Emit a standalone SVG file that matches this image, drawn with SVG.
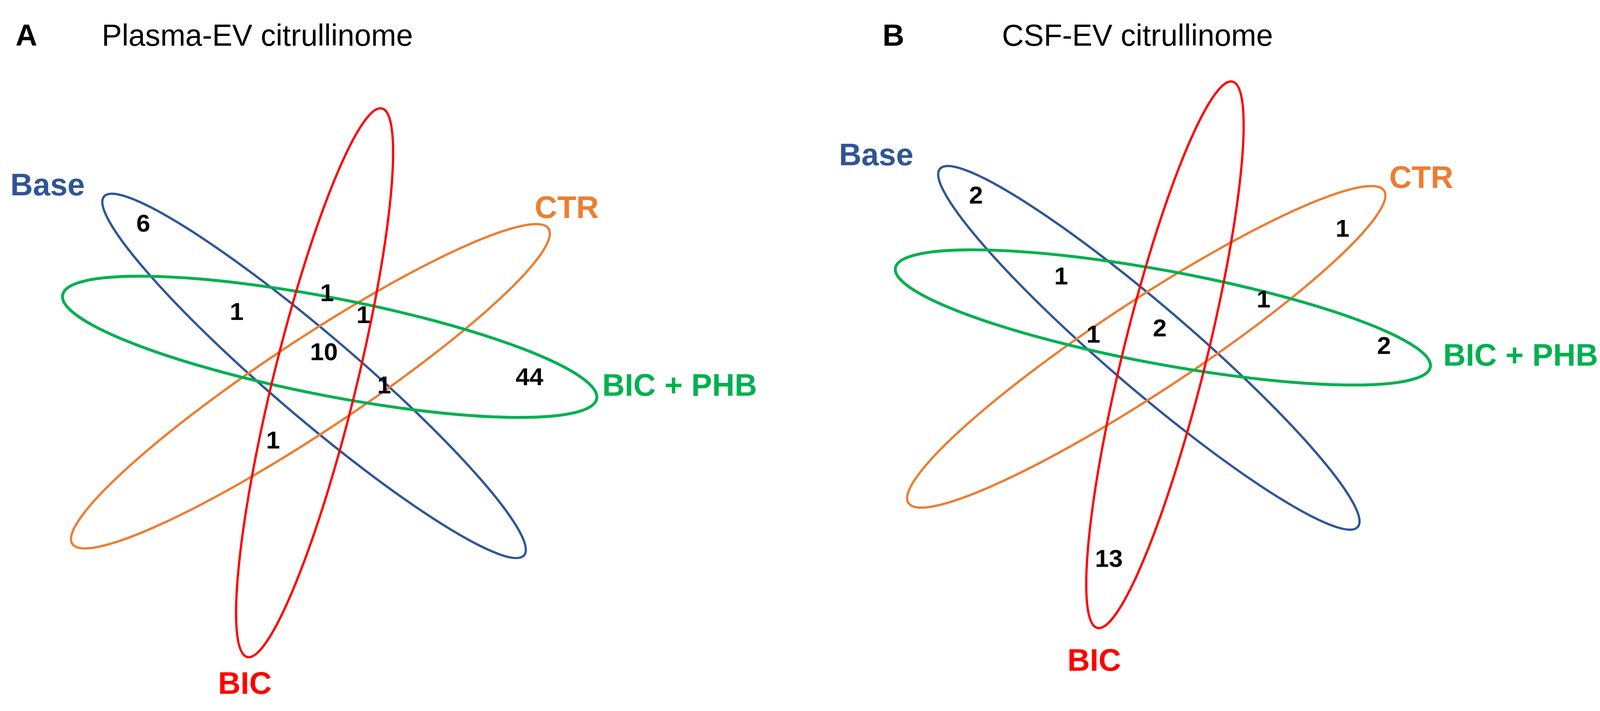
<svg xmlns="http://www.w3.org/2000/svg" width="4168" height="1820" viewBox="0 0 4168 1820">
<style>
.e{fill:none;stroke-width:2.2}
.b{stroke:#2F5597}.r{stroke:#FF0000}.o{stroke:#ED7D31}.g{stroke:#00B050;stroke-width:2.8}
text{font-family:"Liberation Sans",Arial,sans-serif}
.n{font-size:24px;font-weight:bold;fill:#000;text-anchor:middle}
.t{font-size:29px;fill:#000}
.h{font-size:29px;font-weight:bold;fill:#000}
.l{font-size:30px;font-weight:bold}
</style>
<rect width="4168" height="1820" fill="#fff"/>
<g transform="scale(2.658)">
<g id="panelA">
<text class="h" x="15" y="44">A</text>
<text class="t" x="98" y="44">Plasma-EV citrullinome</text>
<g id="A-base"><ellipse class="e b" cx="302.5" cy="362" rx="266" ry="40" transform="rotate(40.5 302.5 362)"/><text class="l" x="10" y="188" fill="#2F5597">Base</text></g>
<g id="A-ctr"><ellipse class="e o" cx="299" cy="372" rx="275" ry="44" transform="rotate(-33.5 299 372)"/><text class="l" x="515" y="210" fill="#ED7D31">CTR</text></g>
<g id="A-bicphb"><ellipse class="e g" cx="317.5" cy="334" rx="262" ry="47" transform="rotate(11 317.5 334)"/><text class="l" x="580" y="381" fill="#00B050">BIC + PHB</text></g>
<g id="A-bic"><ellipse class="e r" cx="303" cy="368.6" rx="40" ry="272" transform="rotate(13.8 303 368.6)"/><text class="l" x="210" y="668" fill="#FF0000">BIC</text></g>
<g id="A-counts">
<text class="n" x="138" y="223">6</text><text class="n" x="228" y="308">1</text><text class="n" x="315" y="290">1</text><text class="n" x="350" y="311">1</text><text class="n" x="312" y="347">10</text><text class="n" x="370" y="379">1</text><text class="n" x="510" y="371">44</text><text class="n" x="263" y="432">1</text>
</g>
</g>
<g id="panelB">
<text class="h" x="850" y="44">B</text>
<text class="t" x="965" y="44">CSF-EV citrullinome</text>
<g id="B-base"><ellipse class="e b" cx="1106.5" cy="335" rx="265" ry="40" transform="rotate(40.6 1106.5 335)"/><text class="l" x="808" y="159" fill="#2F5597">Base</text></g>
<g id="B-ctr"><ellipse class="e o" cx="1104" cy="334" rx="274" ry="44" transform="rotate(-33.3 1104 334)"/><text class="l" x="1338" y="181" fill="#ED7D31">CTR</text></g>
<g id="B-bicphb"><ellipse class="e g" cx="1120" cy="305.7" rx="262" ry="45" transform="rotate(10.5 1120 305.7)"/><text class="l" x="1390" y="352" fill="#00B050">BIC + PHB</text></g>
<g id="B-bic"><ellipse class="e r" cx="1122" cy="341.7" rx="40" ry="271" transform="rotate(13.9 1122 341.7)"/><text class="l" x="1028" y="646" fill="#FF0000">BIC</text></g>
<g id="B-counts">
<text class="n" x="940" y="196">2</text><text class="n" x="1022" y="274">1</text><text class="n" x="1293" y="228">1</text><text class="n" x="1217" y="296">1</text><text class="n" x="1053" y="330">1</text><text class="n" x="1117" y="324">2</text><text class="n" x="1333" y="341">2</text><text class="n" x="1068" y="546">13</text>
</g>
</g>
</g>
</svg>
